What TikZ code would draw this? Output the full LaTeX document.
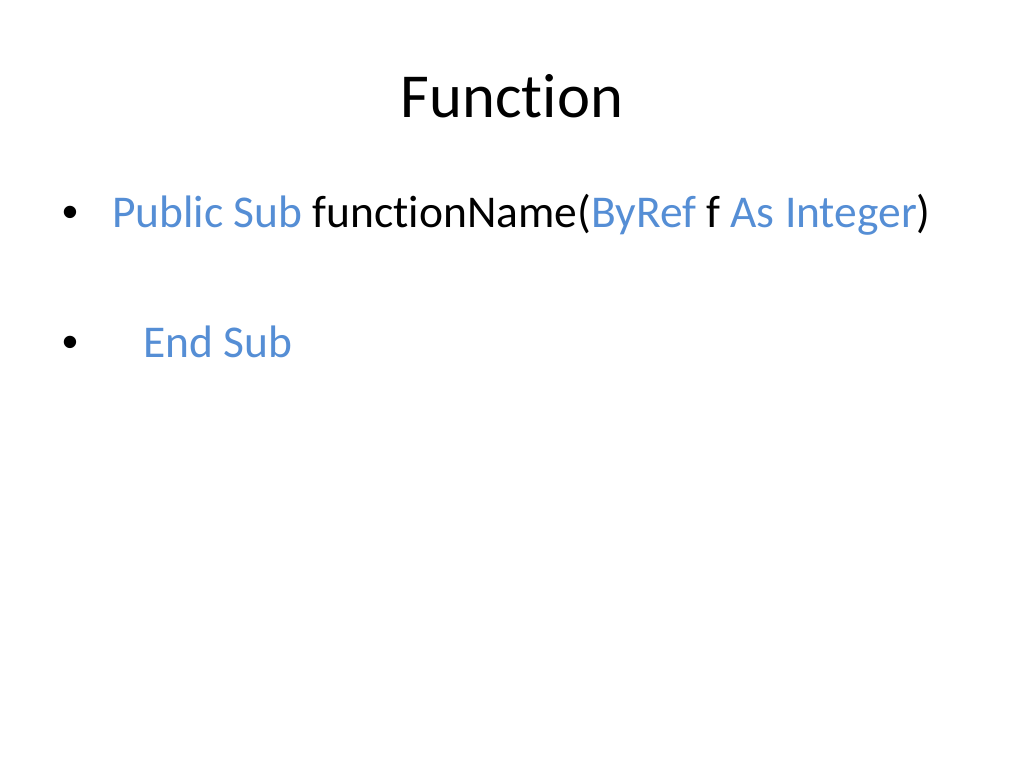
\documentclass[tikz,border=0pt]{standalone}
\usepackage{fontspec}
\setmainfont{Carlito}[Ligatures={NoCommon,NoRare,NoContextual}]
\newfontfamily\bulletfont{Liberation Sans}
\definecolor{kwblue}{HTML}{558ED5}
\begin{document}
\begin{tikzpicture}[x=1pt,y=-1pt,
  txt/.style={inner sep=0pt,outer sep=0pt,anchor=base west,font=\fontsize{45.5}{54}\selectfont},
  bul/.style={inner sep=0pt,outer sep=0pt,anchor=base west,font=\bulletfont\fontsize{45.5}{54}\selectfont},
  ttl/.style={inner sep=0pt,outer sep=0pt,anchor=base,font=\fontsize{62.6}{75}\selectfont}]
\useasboundingbox[fill=white] (0,0) rectangle (1024,768);
\node[ttl] (title) at (512,117) {Function};
\node[bul] (b1) at (62,227) {•};
\node[txt] (l1) at (112,227) {\textcolor{kwblue}{Public Sub} functionName(\textcolor{kwblue}{ByRef} f \textcolor{kwblue}{As Integer})};
\node[bul] (b2) at (62,357) {•};
\node[txt] (l2) at (143,357) {\textcolor{kwblue}{End Sub}};
\end{tikzpicture}
\end{document}
